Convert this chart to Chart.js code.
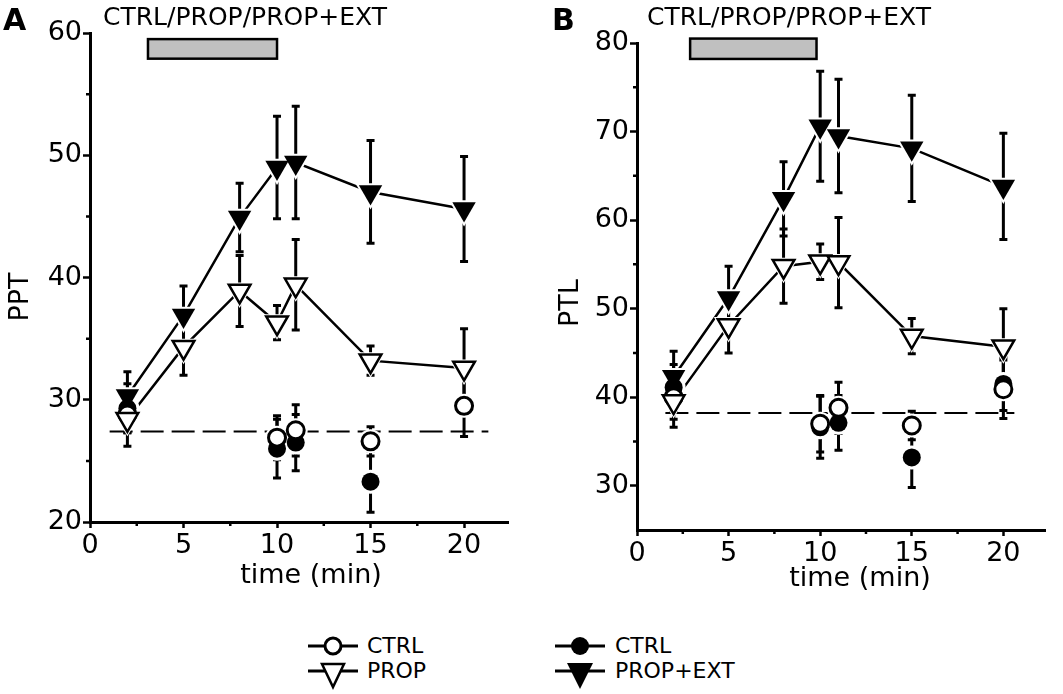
<!DOCTYPE html>
<html>
<head>
<meta charset="utf-8">
<script src="https://cdn.jsdelivr.net/npm/chart.js@4.4.1/dist/chart.umd.min.js"></script>
<style>
  body { margin: 0; background: #fff; }
  #wrap { position: relative; width: 1063px; height: 694px; overflow: hidden; font-family: "DejaVu Sans", sans-serif; color: #000; }
  canvas { position: absolute; top: 0; }
  .sym { position: absolute; }
  .lbl { position: absolute; font-size: 22px; line-height: 30px; white-space: nowrap; }
</style>
</head>
<body>
<div id="wrap">
  <canvas id="pptChart" width="535" height="610" style="left:0"></canvas>
  <canvas id="ptlChart" width="528" height="610" style="left:535px"></canvas>

  <svg class="sym" style="left:305px;top:631px" width="56" height="40">
    <line x1="3" y1="15" x2="53" y2="15" stroke="#000" stroke-width="3"/>
    <circle cx="28" cy="15" r="8" fill="#fff" stroke="#000" stroke-width="3"/>
  </svg>
  <div class="lbl" style="left:367px;top:631px">CTRL</div>
  <svg class="sym" style="left:305px;top:656px" width="56" height="40">
    <line x1="3" y1="15" x2="53" y2="15" stroke="#000" stroke-width="3"/>
    <polygon points="17,8 39,8 28,31" fill="#fff" stroke="#000" stroke-width="2.5"/>
  </svg>
  <div class="lbl" style="left:367px;top:656px">PROP</div>

  <svg class="sym" style="left:552px;top:631px" width="56" height="40">
    <line x1="3" y1="15" x2="53" y2="15" stroke="#000" stroke-width="3"/>
    <circle cx="28" cy="15" r="9" fill="#000"/>
  </svg>
  <div class="lbl" style="left:615px;top:631px">CTRL</div>
  <svg class="sym" style="left:552px;top:656px" width="56" height="40">
    <line x1="3" y1="15" x2="53" y2="15" stroke="#000" stroke-width="3"/>
    <polygon points="15,7 41,7 28,33" fill="#000"/>
  </svg>
  <div class="lbl" style="left:615px;top:656px">PROP+EXT</div>
</div>

<script>
// sampling times (min), shared by both panels
const timeMin = [2, 5, 8, 10, 11, 15, 20];

// panel A – PPT
const pptCtrlOpen = [28.8, null, null, 26.9, 27.5, 26.6, 29.5];
const pptCtrlOpenErr = [1.5, null, null, 1.8, 2.1, 1.2, 2.5];
const pptCtrlFilled = [29.3, null, null, 26.0, 26.5, 23.3, null];
const pptCtrlFilledErr = [2.0, null, null, 2.4, 2.3, 2.5, null];
const pptProp = [28.4, 34.3, 38.9, 36.3, 39.4, 33.2, 32.6];
const pptPropErr = [2.2, 2.3, 2.9, 1.4, 3.7, 1.2, 3.2];
const pptPropExt = [30.3, 36.9, 44.9, 49.0, 49.4, 47.0, 45.6];
const pptPropExtErr = [2.0, 2.4, 2.8, 4.2, 4.6, 4.2, 4.3];
const pptBaseline = 27.4;
const pptBaselineSpan = [1.05, 21.3];
const pptStim = [3.1, 10.0, 57.9, 59.5]; // x from, x to, y from, y to
const pptYTicks = [20, 30, 40, 50, 60];
const pptYMinor = [25, 35, 45, 55];

// panel B – PTL
const ptlCtrlOpen = [40.0, null, null, 37.0, 38.8, 36.8, 40.9];
const ptlCtrlOpenErr = [2.5, null, null, 3.2, 2.9, 1.6, 3.3];
const ptlCtrlFilled = [41.1, null, null, 36.6, 37.1, 33.2, 41.5];
const ptlCtrlFilledErr = [2.6, null, null, 3.5, 3.1, 3.4, 3.0];
const ptlProp = [39.5, 48.1, 54.8, 55.3, 55.2, 46.9, 45.7];
const ptlPropErr = [2.9, 3.1, 4.2, 2.0, 5.1, 2.0, 4.3];
const ptlPropExt = [42.3, 51.2, 62.4, 70.6, 69.5, 68.1, 63.8];
const ptlPropExtErr = [2.9, 3.6, 4.2, 6.2, 6.4, 6.0, 6.0];
const ptlBaseline = 38.2;
const ptlBaselineSpan = [1.55, 20.6];
const ptlStim = [2.9, 9.8, 78.2, 80.5];
const ptlYTicks = [30, 40, 50, 60, 70, 80];
const ptlYMinor = [35, 45, 55, 65, 75];

const xTicks = [0, 5, 10, 15, 20];
const xMinor = [2.5, 7.5, 12.5, 17.5];
const treatmentLabel = 'CTRL/PROP/PROP+EXT';
const xTitle = 'time (min)';

const FONT = '"DejaVu Sans", sans-serif';

const toPoints = (vals, errs) =>
  timeMin.map((t, i) => vals[i] == null ? null : { x: t, y: vals[i], e: errs[i] }).filter(Boolean);

// error bars, minor ticks, stimulus bar and the texts around each panel
const panelDecor = {
  id: 'panelDecor',
  beforeDatasetsDraw(chart) {
    const { ctx, scales: { x, y } } = chart;
    ctx.save();
    ctx.strokeStyle = '#000';
    ctx.lineWidth = 3;
    chart.data.datasets.forEach(ds => {
      if (!ds.errorBars) return;
      ds.data.forEach(p => {
        const px = x.getPixelForValue(p.x);
        const top = y.getPixelForValue(p.y + p.e);
        const bot = y.getPixelForValue(p.y - p.e);
        ctx.beginPath();
        ctx.moveTo(px, top); ctx.lineTo(px, bot);
        ctx.moveTo(px - 4, top); ctx.lineTo(px + 4, top);
        ctx.moveTo(px - 4, bot); ctx.lineTo(px + 4, bot);
        ctx.stroke();
      });
    });
    ctx.restore();
  },
  afterDraw(chart, args, o) {
    const { ctx, chartArea, scales: { x, y } } = chart;
    ctx.save();
    ctx.strokeStyle = '#000';
    ctx.lineWidth = 2.5;
    ctx.beginPath();
    o.xMinor.forEach(v => {
      const px = x.getPixelForValue(v);
      ctx.moveTo(px, chartArea.bottom); ctx.lineTo(px, chartArea.bottom + 4);
    });
    o.yMinor.forEach(v => {
      const py = y.getPixelForValue(v);
      ctx.moveTo(chartArea.left, py); ctx.lineTo(chartArea.left - 4, py);
    });
    ctx.stroke();

    const [sx0, sx1, sy0, sy1] = o.stim;
    const bx = x.getPixelForValue(sx0), bw = x.getPixelForValue(sx1) - bx;
    const by = y.getPixelForValue(sy1), bh = y.getPixelForValue(sy0) - by;
    ctx.fillStyle = '#c0c0c0';
    ctx.fillRect(bx, by, bw, bh);
    ctx.strokeRect(bx, by, bw, bh);

    ctx.fillStyle = '#000';
    ctx.textBaseline = 'alphabetic';
    ctx.font = 'bold 30px ' + FONT;
    ctx.textAlign = 'left';
    ctx.fillText(o.letter, o.letterPos[0], o.letterPos[1]);
    ctx.font = '25px ' + FONT;
    ctx.textAlign = 'center';
    ctx.fillText(o.title, o.titlePos[0], o.titlePos[1]);
    ctx.font = '27px ' + FONT;
    ctx.fillText(o.xTitle, o.xTitlePos[0], o.xTitlePos[1]);
    ctx.translate(o.yTitlePos[0], o.yTitlePos[1]);
    ctx.rotate(-Math.PI / 2);
    ctx.fillText(o.yTitle, 0, 0);
    ctx.restore();
  }
};

function makePanel(id, p) {
  const marker = (vals, errs, style, fill, radius, border, order) => ({
    data: toPoints(vals, errs),
    errorBars: true,
    showLine: false,
    pointStyle: style,
    rotation: style === 'triangle' ? 180 : 0,
    pointRadius: radius,
    pointBackgroundColor: fill,
    pointBorderColor: '#000',
    pointBorderWidth: border,
    order
  });
  const halo = (vals, style, radius) => ({
    data: toPoints(vals, vals),
    showLine: false,
    pointStyle: style,
    rotation: style === 'triangle' ? 180 : 0,
    pointRadius: radius,
    pointBackgroundColor: '#fff',
    pointBorderWidth: 0,
    order: 5
  });
  const line = (vals) => ({
    data: toPoints(vals, vals),
    showLine: true,
    borderColor: '#000',
    borderWidth: 2.5,
    pointRadius: 0,
    order: 8
  });

  new Chart(document.getElementById(id), {
    type: 'scatter',
    data: {
      datasets: [
        {
          data: [{ x: p.baseSpan[0], y: p.base }, { x: p.baseSpan[1], y: p.base }],
          showLine: true, borderColor: '#000', borderWidth: 2, borderDash: [23, 8],
          pointRadius: 0, order: 9
        },
        line(p.prop),
        line(p.propExt),
        halo(p.propExt, 'triangle', 17.5),
        halo(p.prop, 'triangle', 17),
        halo(p.ctrlFilled, 'circle', 12),
        halo(p.ctrlOpen, 'circle', 12),
        marker(p.propExt, p.propExtErr, 'triangle', '#000', 13.5, 0, 3),
        marker(p.ctrlFilled, p.ctrlFilledErr, 'circle', '#000', 9, 0, 2),
        marker(p.ctrlOpen, p.ctrlOpenErr, 'circle', '#fff', 8.5, 3, 1),
        marker(p.prop, p.propErr, 'triangle', '#fff', 12.5, 2.5, 0)
      ]
    },
    options: {
      responsive: false,
      animation: false,
      layout: { padding: { left: 0, top: p.top, right: p.right, bottom: 0 } },
      plugins: {
        legend: { display: false },
        tooltip: { enabled: false },
        panelDecor: {
          xMinor, yMinor: p.yMinor, stim: p.stim,
          letter: p.letter, letterPos: p.letterPos,
          title: treatmentLabel, titlePos: p.titlePos,
          xTitle, xTitlePos: p.xTitlePos,
          yTitle: p.yTitle, yTitlePos: p.yTitlePos
        }
      },
      scales: {
        x: {
          type: 'linear', min: 0, max: p.xMax,
          afterBuildTicks: s => { s.ticks = xTicks.map(v => ({ value: v })); },
          afterFit: s => { s.height = p.xHeight; },
          border: { display: true, color: '#000', width: 3 },
          grid: { drawOnChartArea: false, drawTicks: true, tickLength: 6, tickWidth: 2.5, tickColor: '#000' },
          ticks: { color: '#000', font: { family: FONT, size: 27 }, padding: 2, maxRotation: 0, autoSkip: false }
        },
        y: {
          type: 'linear', min: p.yMin, max: p.yMax,
          afterBuildTicks: s => { s.ticks = p.yTicks.map(v => ({ value: v })); },
          afterFit: s => { s.width = p.yWidth; },
          border: { display: true, color: '#000', width: 3 },
          grid: { drawOnChartArea: false, drawTicks: true, tickLength: 7, tickWidth: 2.5, tickColor: '#000' },
          ticks: { color: '#000', font: { family: FONT, size: 27 }, padding: 1, autoSkip: false }
        }
      }
    },
    plugins: [panelDecor]
  });
}

makePanel('pptChart', {
  ctrlOpen: pptCtrlOpen, ctrlOpenErr: pptCtrlOpenErr,
  ctrlFilled: pptCtrlFilled, ctrlFilledErr: pptCtrlFilledErr,
  prop: pptProp, propErr: pptPropErr,
  propExt: pptPropExt, propExtErr: pptPropExtErr,
  base: pptBaseline, baseSpan: pptBaselineSpan, stim: pptStim,
  yTicks: pptYTicks, yMinor: pptYMinor, yMin: 20, yMax: 60, xMax: 22.35,
  top: 33, right: 27, yWidth: 90, xHeight: 88,
  letter: 'A', letterPos: [3, 30], titlePos: [245, 25],
  yTitle: 'PPT', yTitlePos: [28, 297], xTitlePos: [311, 583]
});

makePanel('ptlChart', {
  ctrlOpen: ptlCtrlOpen, ctrlOpenErr: ptlCtrlOpenErr,
  ctrlFilled: ptlCtrlFilled, ctrlFilledErr: ptlCtrlFilledErr,
  prop: ptlProp, propErr: ptlPropErr,
  propExt: ptlPropExt, propExtErr: ptlPropExtErr,
  base: ptlBaseline, baseSpan: ptlBaselineSpan, stim: ptlStim,
  yTicks: ptlYTicks, yMinor: ptlYMinor, yMin: 25, yMax: 80, xMax: 22.3,
  top: 43, right: 6, yWidth: 102, xHeight: 80,
  letter: 'B', letterPos: [17, 30], titlePos: [254, 25],
  yTitle: 'PTL', yTitlePos: [43, 303], xTitlePos: [325, 586]
});
</script>
</body>
</html>
